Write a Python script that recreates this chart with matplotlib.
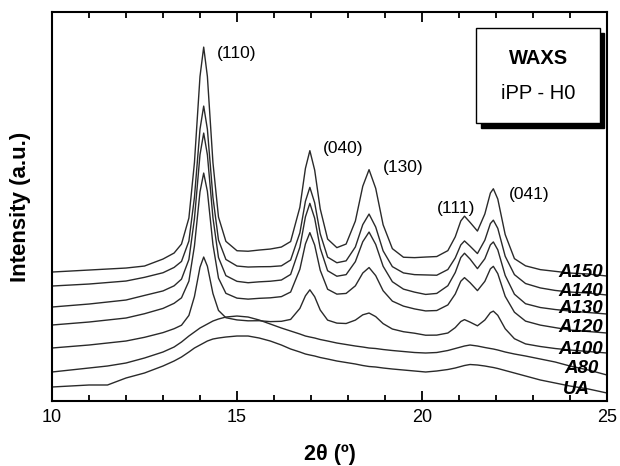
import matplotlib.pyplot as plt
from matplotlib.patches import Rectangle

plt.rcParams['font.family'] = ['Liberation Sans', 'DejaVu Sans']

# 2theta grid (deg)
two_theta = [10.0, 10.5, 11.0, 11.5, 12.0, 12.5, 13.0, 13.3, 13.5, 13.7,
             13.85, 14.0, 14.1, 14.2, 14.35, 14.5, 14.7, 15.0, 15.3, 15.6,
             15.9, 16.2, 16.45, 16.7, 16.85, 16.97, 17.1, 17.25, 17.45, 17.7,
             17.95, 18.2, 18.4, 18.57, 18.75, 18.95, 19.2, 19.5, 19.8, 20.1,
             20.4, 20.7, 20.9, 21.05, 21.15, 21.3, 21.5, 21.7, 21.85, 21.93,
             22.05, 22.25, 22.5, 22.8, 23.2, 23.6, 24.0, 24.5, 25.0]

# intensities (a.u., curves already shifted as in the figure)
a150 = [129, 130, 131, 132, 133, 135, 142, 148, 157, 183,
        238.5, 324.6, 354, 324.6, 238.5, 184, 159.7, 150.3, 149.8, 151,
        152, 154, 159.5, 193.8, 232.7, 250.4, 231, 192.2, 162, 153.4,
        157, 180, 214.8, 231.4, 212.7, 176.3, 152.4, 143.8, 143.4, 144,
        144.5, 150.4, 164.2, 180.1, 184.9, 178.7, 170, 187.1, 208, 212.3,
        202, 166.5, 142.4, 135.2, 131.4, 129.7, 128, 127, 125]
a140 = [115, 116, 117, 118.5, 120, 123.7, 128.3, 133.6, 139.6, 160,
        203.7, 271.8, 295, 271.8, 203.7, 161, 141.6, 135, 134, 134.3,
        134.4, 135.2, 141, 168.2, 199.8, 213.7, 198.3, 167.3, 143.9, 138.3,
        140.2, 154.1, 176.4, 187, 174, 150.2, 134.4, 128.1, 126.4, 126.1,
        125.8, 131.5, 143.1, 156.1, 160.1, 154.9, 147.5, 160.9, 177.5, 180.9,
        172.7, 144.8, 126.4, 117.5, 113.1, 110.6, 109, 108, 106]
a130 = [94, 95.5, 97, 99, 101, 105.6, 110.1, 115.2, 121.9, 141.5,
        182.3, 246.3, 268, 246.3, 183.3, 143.5, 125.4, 119.7, 118.3, 119.2,
        119.8, 121, 126.6, 153.8, 184.2, 197.7, 182.8, 152.9, 130.3, 124.8,
        126.4, 139.4, 159.3, 169, 156.6, 134.8, 119.3, 111.9, 108.9, 106.6,
        107.6, 115.3, 128.5, 143.5, 147.8, 142, 132.4, 142.3, 156.2, 159.1,
        151.2, 125.6, 106.8, 97.3, 93.5, 91.5, 90, 88.5, 87]
a120 = [76, 77.5, 79, 81, 83, 87.3, 92.6, 97.7, 103.2, 119.9,
        155, 209.2, 228, 209.7, 156.5, 122.9, 107.7, 102.9, 101.9, 102.7,
        103.2, 104.4, 109, 131.8, 157.1, 168.4, 156, 130.8, 111.8, 106.9,
        107.6, 115.2, 128, 133.5, 125.4, 110.3, 99.9, 94.9, 92.1, 90.1,
        90.5, 96.1, 107, 119.8, 123.4, 118.4, 110.4, 119.7, 132.2, 134.7,
        127.4, 104.7, 88.8, 79.9, 75.9, 73.4, 71, 69.5, 68]
a100 = [53, 54.5, 56, 58, 60, 63.7, 68.4, 72.3, 75.8, 85.6,
        104.5, 133.8, 144, 134.8, 107.5, 90.6, 83.3, 81.1, 80.2, 80.3,
        79.4, 79.7, 81.6, 92.6, 105.2, 111.2, 104.3, 91, 80.9, 77.9,
        77.5, 80.9, 86.2, 88, 84.4, 77.4, 72, 69.3, 67.8, 65.8,
        65.9, 68, 73.4, 79.5, 81.4, 78.9, 75.2, 81, 88.4, 89.9,
        85.7, 72.3, 62.3, 57.1, 54.5, 52.5, 51, 49.5, 48]
a80 = [29, 31, 33, 35, 38, 43, 49, 54, 59, 65,
       69, 73, 75, 77, 80, 82, 84, 85, 84, 81,
       77, 73, 70, 67, 65, 64, 63, 61.5, 60, 58,
       56.5, 55, 54, 53, 52.5, 51.5, 50.5, 49.5, 48.5, 48,
       48.5, 50.5, 52.5, 54, 55, 56, 55, 53.5, 52.5, 52,
       51, 49, 47, 45, 42, 39, 35, 31, 26]
ua = [14, 15, 16, 16, 23, 28, 35, 40, 44, 49,
      53, 56, 58, 60, 62, 63, 64, 65, 65, 63,
      60, 56, 52, 49, 47, 46, 45, 43.5, 42, 40,
      38.5, 37, 35.5, 34.5, 34, 33, 32, 31, 30, 29,
      30, 31.5, 33, 34.5, 35.5, 36.5, 36, 35, 34, 33.5,
      32.5, 30.5, 28, 25, 21, 18, 15, 12, 8]

curves = [a150, a140, a130, a120, a100, a80, ua]
names = ['A150', 'A140', 'A130', 'A120', 'A100', 'A80', 'UA']
label_x = [24.9, 24.9, 24.9, 24.9, 24.9, 24.77, 24.55]
label_y = [129, 110, 93, 74, 52, 33, 11]

peaks = ['(110)', '(040)', '(130)', '(111)', '(041)']
peak_x = [14.46, 17.32, 18.95, 20.41, 22.36]
peak_y = [348, 253, 234, 193, 207]

fig = plt.figure(figsize=(6.2, 4.66), dpi=100)
ax = fig.add_axes([0.0839, 0.1395, 0.895, 0.8345])

for y in curves:
    ax.plot(two_theta, y, color='#2a2a2a', lw=1.0)

for name, x, y in zip(names, label_x, label_y):
    ax.text(x, y, name, ha='right', va='center', fontsize=13.5,
            fontweight='bold', fontstyle='italic')

for p, x, y in zip(peaks, peak_x, peak_y):
    ax.text(x, y, p, ha='left', va='center', fontsize=12.5)

ax.set_xlim(10, 25)
ax.set_ylim(0, 389)
ax.set_xticks([10, 15, 20, 25])
ax.set_xticks(range(10, 26), minor=True)
ax.set_yticks([])
ax.tick_params(axis='x', which='both', direction='in', top=True,
               labelsize=13, pad=6, width=1.3)
ax.tick_params(axis='x', which='major', length=7)
ax.tick_params(axis='x', which='minor', length=4)
for s in ax.spines.values():
    s.set_linewidth(1.5)

ax.set_xlabel('2θ (º)', fontsize=15.5, fontweight='bold', labelpad=13)
ax.set_ylabel('Intensity (a.u.)', fontsize=16, fontweight='bold', labelpad=15)

# boxed title with drop shadow
ax.add_patch(Rectangle((0.773, 0.703), 0.222, 0.244, transform=ax.transAxes,
                       facecolor='black', edgecolor='black', zorder=4))
ax.add_patch(Rectangle((0.764, 0.715), 0.223, 0.244, transform=ax.transAxes,
                       facecolor='white', edgecolor='black', lw=1.0, zorder=5))
ax.text(0.876, 0.882, 'WAXS', transform=ax.transAxes, ha='center',
        va='center', fontsize=14.5, fontweight='bold', zorder=6)
ax.text(0.876, 0.792, 'iPP - H0', transform=ax.transAxes, ha='center',
        va='center', fontsize=14.5, zorder=6)

fig.savefig('out.png', dpi=100)
